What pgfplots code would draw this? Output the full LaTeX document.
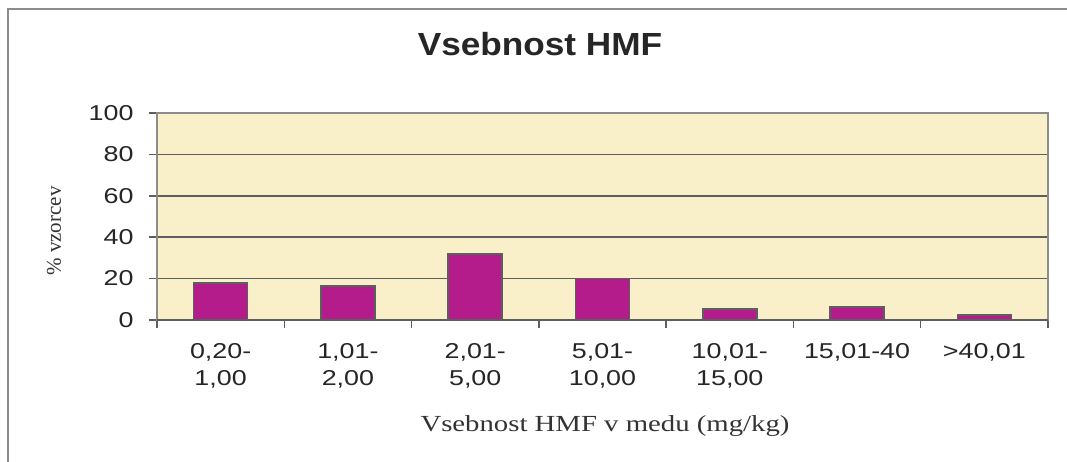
\documentclass[border=0pt]{standalone}
\usepackage{pgfplots}
\pgfplotsset{compat=1.18}
\usepackage{fontspec}
\setmainfont{Liberation Sans}
\newfontfamily\tickfont[FakeStretch=1.25]{Liberation Sans}
\newfontfamily\titlefont[FakeStretch=1.1]{Liberation Sans}
\newfontfamily\serifwide[FakeStretch=1.25]{Liberation Serif}
\newfontfamily\seriffont{Liberation Serif}
\definecolor{bgyellow}{HTML}{F9F0CA}
\definecolor{barmag}{HTML}{B41C8C}
\definecolor{gridgray}{HTML}{5E5E5E}
\definecolor{framegray}{HTML}{8C8C8C}
\begin{document}
\begin{tikzpicture}
\useasboundingbox (0,0) rectangle (1067pt,462pt);
\fill[white] (0,0) rectangle (1067pt,462pt);
\draw[framegray, line width=2.5pt] (8pt,0) -- (8pt,453pt) -- (1067pt,453pt);
\begin{axis}[
  at={(157pt,142pt)}, anchor=south west,
  scale only axis, width=891pt, height=207pt,
  xmin=-0.5, xmax=6.5, ymin=0, ymax=100,
  axis background/.style={fill=bgyellow},
  ytick={0,20,...,100},
  xtick={0,...,6},
  xticklabels={{0,20-\\1,00},{1,01-\\2,00},{2,01-\\5,00},{5,01-\\10,00},{10,01-\\15,00},{15,01-40},{>40,01}},
  minor xtick={-0.5,0.5,...,6.5},
  major x tick style={draw=none},
  minor x tick style={draw=gridgray, line width=1.5pt},
  minor tick length=8pt,
  major tick length=8pt,
  tick align=outside,
  ytick style={draw=gridgray, line width=1.5pt},
  xtick pos=bottom, ytick pos=left,
  ymajorgrids,
  major grid style={draw=gridgray, line width=1.6pt},
  axis line style={draw=framegray, line width=1.5pt},
  /pgf/number format/assume math mode=true,
  yticklabel style={font=\tickfont\fontsize{21.5}{27}\selectfont, text=black!85, xshift=-12pt},
  xticklabel style={font=\tickfont\fontsize{21.5}{27}\selectfont, text=black!85, align=center, yshift=-12pt},
  clip=false,
]
\addplot[ybar, bar width=54pt, fill=barmag, draw=gridgray, line width=1.5pt]
  coordinates {(0,17.9) (1,16.5) (2,32.0) (3,20.0) (4,5.2) (5,6.3) (6,2.5)};
\draw[gridgray, line width=1.6pt] (axis cs:-0.5,0) -- (axis cs:6.5,0);
\end{axis}
\node[font=\titlefont\bfseries\fontsize{32}{38}\selectfont, text=black!85] at (540pt,418pt) {Vsebnost HMF};
\node[font=\serifwide\fontsize{23}{28}\selectfont, text=black!80] at (605pt,36pt) {Vsebnost HMF v medu (mg/kg)};
\node[font=\seriffont\fontsize{21}{24}\selectfont, text=black!80, rotate=90] at (54pt,231pt) {\% vzorcev};
\end{tikzpicture}
\end{document}
